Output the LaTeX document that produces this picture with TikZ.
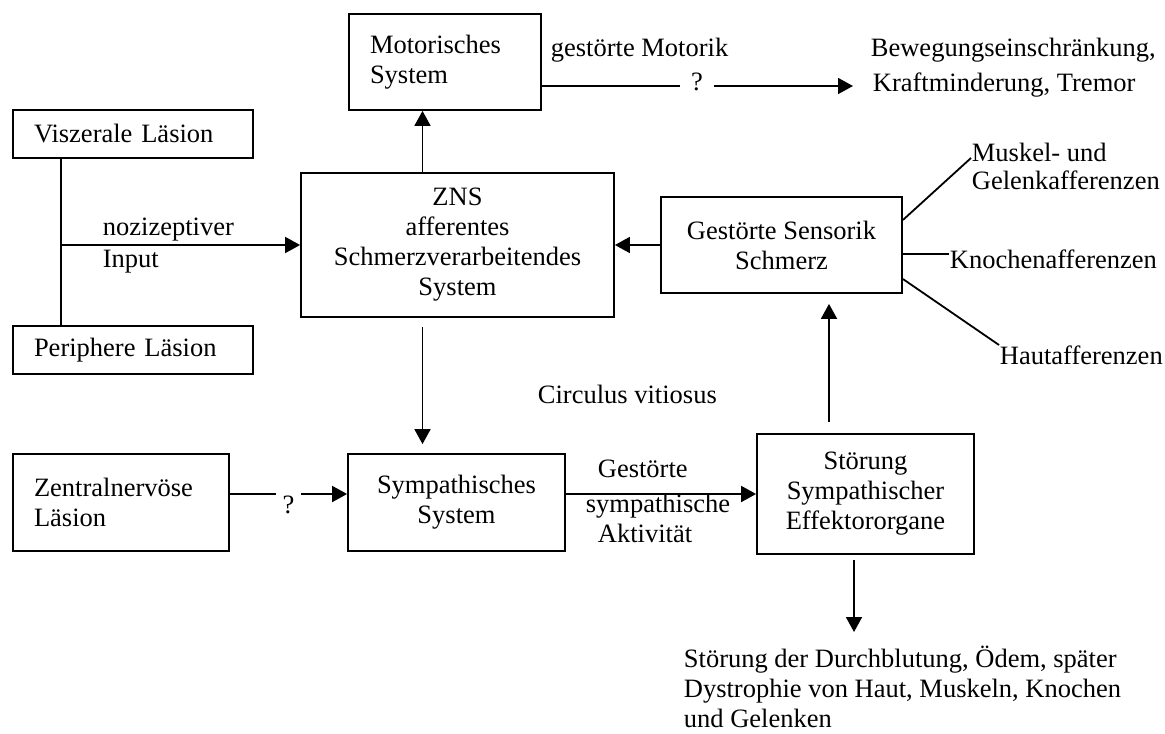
\documentclass[tikz,border=0pt]{standalone}
\usepackage{fontspec}
\setmainfont{Liberation Serif}
\usetikzlibrary{arrows.meta}
\tikzset{
    box/.style={draw},
    lbox/.style={box, align=left, inner xsep=10.5pt},
    cbox/.style={box, align=center},
    lbl/.style={anchor=north west, inner sep=0pt, align=left},
    qmark/.style={anchor=north, inner ysep=0pt},
    arr/.style={-{Triangle[length=7.5pt,width=8pt]}}
}

\begin{document}
\begin{tikzpicture}[x=0.5pt,y=-0.5pt,line width=0.9pt,font=\fontsize{13.25}{15}\selectfont]
\useasboundingbox (0,0) rectangle (1165,733);
\node[lbox,minimum width=96pt,minimum height=48pt,text width=75pt]    (motor) at (445,62)    {Motorisches\\System};
\node[lbox,minimum width=120pt,minimum height=24pt,text width=99pt]   (visz)  at (133,134)   {Viszerale Läsion};
\node[lbox,minimum width=120pt,minimum height=24pt,text width=99pt]   (peri)  at (133,350)   {Periphere Läsion};
\node[lbox,minimum width=108pt,minimum height=48.5pt,text width=87pt] (zent)  at (121,502.5) {Zentralnervöse\\Läsion};
\node[cbox,minimum width=156.5pt,minimum height=72pt]   (zns)   at (457.5,245) {ZNS\\afferentes\\Schmerzverarbeitendes\\System};
\node[cbox,minimum width=120.5pt,minimum height=48pt]   (sens)  at (781.5,245) {Gestörte Sensorik\\Schmerz};
\node[cbox,minimum width=108.5pt,minimum height=48.5pt] (symp)  at (456.5,502.5) {Sympathisches\\System};
\node[cbox,minimum width=108.5pt,minimum height=60pt]   (stoer) at (865.5,494) {Störung\\Sympathischer\\Effektororgane};

\node[lbl] (gest)  at (550,37)  {gestörte Motorik};
\node[qmark,inner xsep=5pt] (q1) at (697,72) {?};
\node[lbl] (bew)   at (870,37)  {Bewegungseinschränkung,\\[2.5pt]\hspace*{1pt}Kraftminderung, Tremor};
\coordinate (motend) at (853,86);
\node[lbl] (nozi)  at (102,217) {nozizeptiver\\[1pt]Input};
\node[lbl] (musk)  at (971,142) {Muskel- und\\[-1pt]Gelenkafferenzen};
\node[lbl] (knoch) at (949,249) {Knochenafferenzen};
\node[lbl] (haut)  at (999,345) {Hautafferenzen};
\node[lbl] (circ)  at (537,384) {Circulus vitiosus};
\node[qmark,inner xsep=3pt] (q2) at (288.5,495) {?};
\node[lbl] (gsa)   at (585,459) {\hspace*{6pt}Gestörte\\[2.5pt]sympathische\\\hspace*{6pt}Aktivität};
\node[lbl] (folge) at (683,645) {Störung der Durchblutung, Ödem, später\\Dystrophie von Haut, Muskeln, Knochen\\und Gelenken};

\draw ([yshift=-12pt]motor.east) -- ([yshift=-12pt]motor.east -| q1.west);
\draw[arr] ([yshift=-12pt]motor.east -| q1.east) -- (motend);
\draw[arr] ([xshift=-17.5pt]zns.north) -- ([xshift=-17.5pt]zns.north |- motor.south);
\draw ([xshift=-36pt]visz.south) -- ([xshift=-36pt]peri.north);
\draw[arr] ([xshift=-36pt]visz.south |- zns.west) -- (zns.west);
\draw[arr,shorten <=4.5pt,shorten >=4.5pt] ([xshift=-17.5pt]zns.south) -- ([xshift=-17.5pt]zns.south |- symp.north);
\draw[arr] (sens.west) -- (zns.east);
\draw ([yshift=12.5pt]sens.east) -- ([yshift=-8pt]musk.north west);
\draw ([yshift=-4.5pt]sens.east) -- ([yshift=-4.5pt]sens.east -| knoch.west);
\draw ([yshift=-17pt]sens.east) -- (haut.north west);
\draw[arr,shorten <=5.5pt,shorten >=5pt] ([xshift=-18.25pt]stoer.north) -- ([xshift=-18.25pt]stoer.north |- sens.south);
\draw ([yshift=4.25pt]zent.east) -- ([yshift=4.25pt]zent.east -| q2.west);
\draw[arr] ([yshift=4.25pt]zent.east -| q2.east) -- ([yshift=4.25pt]symp.west);
\draw[arr] (stoer.west -| symp.east) -- (stoer.west);
\draw[arr,shorten <=2.5pt,shorten >=6.5pt] ([xshift=-5.75pt]stoer.south) -- ([xshift=-5.75pt]stoer.south |- folge.north);
\end{tikzpicture}
\end{document}
